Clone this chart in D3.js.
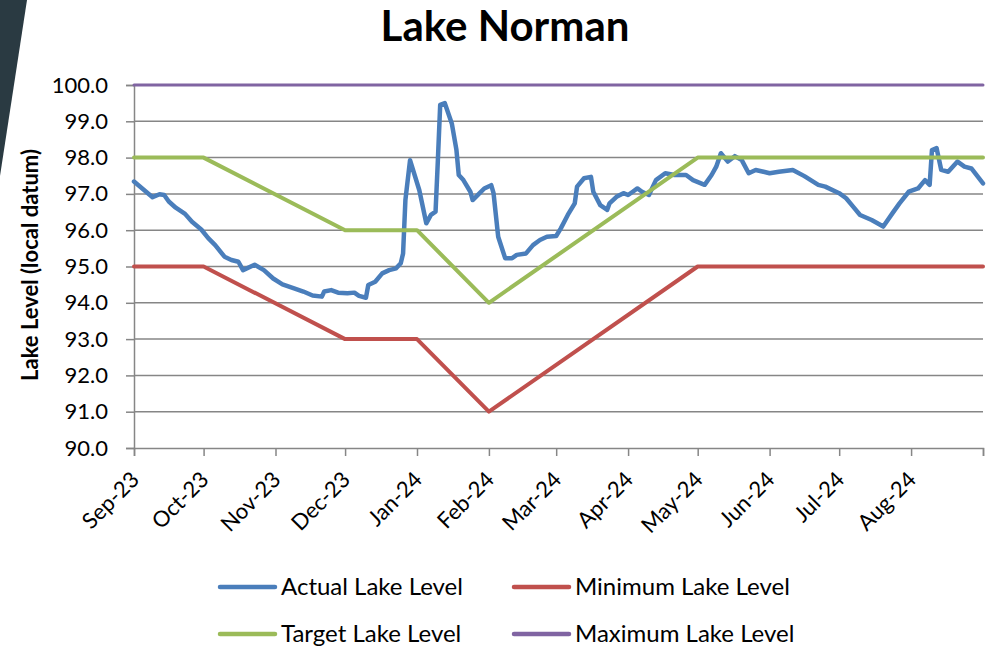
<!DOCTYPE html>
<html>
<head>
<meta charset="utf-8">
<script src="https://cdn.jsdelivr.net/npm/d3@7"></script>
<style>
  html, body { margin: 0; padding: 0; background: #fff; }
  svg { display: block; font-family: Lato, "Open Sans", sans-serif; }
</style>
</head>
<body>
<svg width="990" height="649"></svg>
<script>
// actual lake level
var actualDates = [
  "2023-09-01","2023-09-09","2023-09-12","2023-09-14","2023-09-16","2023-09-19","2023-09-23","2023-09-26","2023-09-30",
  "2023-10-03","2023-10-06","2023-10-10","2023-10-13","2023-10-16","2023-10-18","2023-10-23","2023-10-27","2023-10-31",
  "2023-11-04","2023-11-09","2023-11-13","2023-11-17","2023-11-21","2023-11-22","2023-11-25","2023-11-28",
  "2023-12-02","2023-12-05","2023-12-07","2023-12-10","2023-12-11","2023-12-14","2023-12-17","2023-12-20","2023-12-23",
  "2023-12-25","2023-12-26","2023-12-27","2023-12-29",
  "2024-01-02","2024-01-05","2024-01-07","2024-01-09","2024-01-10","2024-01-11","2024-01-13","2024-01-16","2024-01-18",
  "2024-01-19","2024-01-21","2024-01-24","2024-01-25","2024-01-28","2024-01-30",
  "2024-02-02","2024-02-03","2024-02-05","2024-02-08","2024-02-11","2024-02-13","2024-02-17","2024-02-20","2024-02-23","2024-02-26",
  "2024-03-01","2024-03-03","2024-03-06","2024-03-09","2024-03-10","2024-03-13","2024-03-16","2024-03-17","2024-03-20",
  "2024-03-23","2024-03-24","2024-03-27","2024-03-30",
  "2024-04-01","2024-04-03","2024-04-05","2024-04-07","2024-04-10","2024-04-13","2024-04-17","2024-04-21","2024-04-26","2024-04-29",
  "2024-05-04","2024-05-07","2024-05-09","2024-05-11","2024-05-14","2024-05-17","2024-05-20","2024-05-23","2024-05-26",
  "2024-06-01","2024-06-05","2024-06-11","2024-06-16","2024-06-22","2024-06-25",
  "2024-07-01","2024-07-04","2024-07-07","2024-07-10","2024-07-15","2024-07-20","2024-07-24","2024-07-27","2024-07-31",
  "2024-08-04","2024-08-07","2024-08-09","2024-08-10","2024-08-12","2024-08-14","2024-08-17","2024-08-21","2024-08-24","2024-08-27",
  "2024-09-01"
];
var actualLevels = [
  97.34,96.91,96.99,96.97,96.79,96.62,96.45,96.23,96.02,
  95.78,95.59,95.27,95.18,95.13,94.90,95.05,94.90,94.67,
  94.51,94.40,94.31,94.20,94.17,94.31,94.35,94.28,
  94.26,94.28,94.19,94.14,94.49,94.58,94.81,94.90,94.95,
  95.09,95.36,96.83,97.93,
  97.10,96.19,96.42,96.51,97.93,99.45,99.50,98.94,98.21,
  97.52,97.38,97.06,96.83,97.02,97.15,
  97.24,97.02,95.82,95.23,95.23,95.32,95.36,95.59,95.73,95.82,
  95.84,96.05,96.42,96.74,97.20,97.43,97.47,97.06,96.69,
  96.56,96.74,96.92,97.02,
  96.97,97.06,97.15,97.06,96.97,97.38,97.57,97.52,97.52,97.38,
  97.25,97.52,97.75,98.12,97.89,98.04,97.93,97.57,97.66,
  97.57,97.61,97.66,97.49,97.25,97.20,
  97.02,96.88,96.65,96.42,96.28,96.10,96.47,96.74,97.06,
  97.15,97.38,97.25,98.21,98.26,97.66,97.61,97.89,97.75,97.70,
  97.29
];

// rule curve
var ruleDates = ["2023-09-01","2023-10-01","2023-12-01","2024-01-01","2024-02-01","2024-05-01","2024-09-01"];
var targetLevels = [98, 98, 96, 96, 94, 98, 98];
var minimumLevels = [95, 95, 93, 93, 91, 95, 95];
var maxDates = ["2023-09-01","2024-09-01"];
var maximumLevels = [100, 100];

var monthTicks = ["2023-09-01","2023-10-01","2023-11-01","2023-12-01","2024-01-01","2024-02-01","2024-03-01",
                  "2024-04-01","2024-05-01","2024-06-01","2024-07-01","2024-08-01","2024-09-01"];
var monthLabels = ["Sep-23","Oct-23","Nov-23","Dec-23","Jan-24","Feb-24","Mar-24",
                   "Apr-24","May-24","Jun-24","Jul-24","Aug-24",""];
var yTicks = [90, 91, 92, 93, 94, 95, 96, 97, 98, 99, 100];

var seriesNames = ["Actual Lake Level", "Minimum Lake Level", "Target Lake Level", "Maximum Lake Level"];
var seriesColors = ["#4a7ebb", "#c0504d", "#9bbb59", "#8064a2"];

(function () {
  var parse = d3.utcParse("%Y-%m-%d");
  var svg = d3.select("svg");

  var x = d3.scaleUtc()
      .domain([parse("2023-09-01"), parse("2024-09-01")])
      .range([134, 983]);
  var y = d3.scaleLinear()
      .domain([90, 100])
      .range([448, 85]);

  // dark slanted band from the slide behind the chart
  svg.append("path")
      .attr("d", "M0,0 L27,0 L0,176 Z")
      .attr("fill", "#2a3a42");

  svg.append("text")
      .attr("x", 505).attr("y", 41)
      .attr("text-anchor", "middle")
      .attr("font-size", 42).attr("font-weight", "bold")
      .text("Lake Norman");

  // gridlines
  svg.append("g")
    .selectAll("line")
    .data(yTicks.slice(1))
    .enter().append("line")
      .attr("x1", 134).attr("x2", 983)
      .attr("y1", function (d) { return y(d); })
      .attr("y2", function (d) { return y(d); })
      .attr("stroke", "#868686").attr("stroke-width", 1.5);

  // y axis
  var yAxis = svg.append("g")
      .attr("transform", "translate(134,0)")
      .call(d3.axisLeft(y).tickValues(yTicks).tickSize(8).tickPadding(18)
            .tickFormat(d3.format(".1f")));
  yAxis.select(".domain").attr("stroke", "#868686").attr("stroke-width", 1.5);
  yAxis.selectAll(".tick line").attr("stroke", "#868686").attr("stroke-width", 1.5);
  yAxis.selectAll("text").attr("font-size", 22).attr("fill", "#000")
      .attr("font-family", "Lato, sans-serif");

  // x axis
  var xAxis = svg.append("g")
      .attr("transform", "translate(0,448)")
      .call(d3.axisBottom(x).tickValues(monthTicks.map(parse)).tickSize(8)
            .tickFormat(function (d, i) { return monthLabels[i]; }));
  xAxis.select(".domain").attr("stroke", "#868686").attr("stroke-width", 1.5);
  xAxis.selectAll(".tick line").attr("stroke", "#868686").attr("stroke-width", 1.5);
  xAxis.selectAll("text")
      .attr("font-size", 22).attr("fill", "#000")
      .attr("font-family", "Lato, sans-serif")
      .attr("text-anchor", "end")
      .attr("y", 0).attr("dy", null)
      .attr("transform", "translate(6,33) rotate(-45)");

  svg.append("text")
      .attr("transform", "translate(38,265) rotate(-90)")
      .attr("text-anchor", "middle")
      .attr("font-size", 22).attr("font-weight", "bold")
      .text("Lake Level (local datum)");

  function toPoints(dates, vals) {
    return dates.map(function (d, i) { return [parse(d), vals[i]]; });
  }

  var line = d3.line()
      .x(function (d) { return x(d[0]); })
      .y(function (d) { return y(d[1]); });

  var series = [
    toPoints(actualDates, actualLevels),
    toPoints(ruleDates, minimumLevels),
    toPoints(ruleDates, targetLevels),
    toPoints(maxDates, maximumLevels)
  ];
  var widths = [4.5, 4, 4, 3];

  svg.append("g")
    .selectAll("path")
    .data(series)
    .enter().append("path")
      .attr("d", line)
      .attr("fill", "none")
      .attr("stroke", function (d, i) { return seriesColors[i]; })
      .attr("stroke-width", function (d, i) { return widths[i]; })
      .attr("stroke-linejoin", "round")
      .attr("stroke-linecap", "round");

  // legend, two columns
  var legend = svg.append("g")
    .selectAll("g")
    .data(seriesNames)
    .enter().append("g")
      .attr("transform", function (d, i) {
        return "translate(" + (i % 2 ? 514 : 220) + "," + (i < 2 ? 587 : 634) + ")";
      });
  legend.append("line")
      .attr("x1", 0).attr("x2", 55)
      .attr("stroke", function (d, i) { return seriesColors[i]; })
      .attr("stroke-width", 4.5)
      .attr("stroke-linecap", "round");
  legend.append("text")
      .attr("x", 61).attr("dy", "0.35em")
      .attr("font-size", 24)
      .text(function (d) { return d; });
})();
</script>
</body>
</html>
